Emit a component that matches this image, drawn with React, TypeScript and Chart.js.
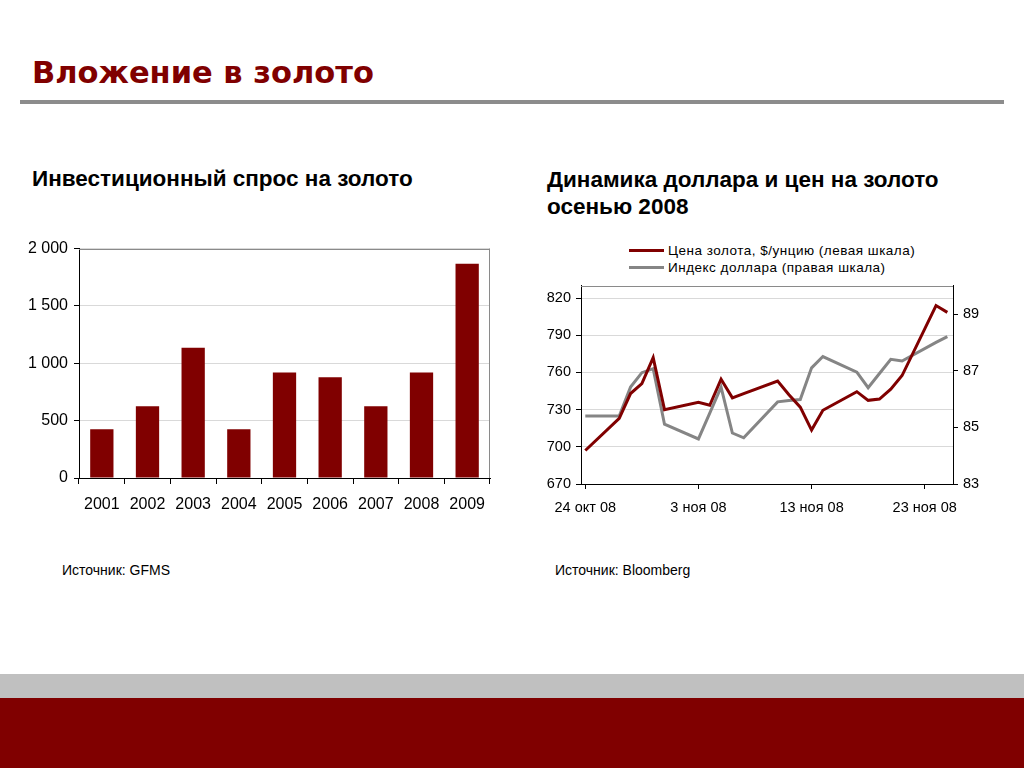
import React, { useEffect, useRef } from 'react';
import { Chart, registerables } from 'chart.js';

Chart.register(...registerables);

// ---- Bar chart data: investment demand for gold (tonnes)
const YEARS = ['2001', '2002', '2003', '2004', '2005', '2006', '2007', '2008', '2009'];
const DEMAND = [425, 625, 1135, 425, 920, 878, 625, 920, 1868];
const BAR_Y_MIN = 0;
const BAR_Y_MAX = 2000;
const BAR_Y_STEP = 500;

// ---- Line chart data: days since 24 Oct 2008 (trading days)
const TRADE_DAYS = [0, 3, 4, 5, 6, 7, 10, 11, 12, 13, 14, 17, 18, 19, 20, 21, 24, 25, 26, 27, 28, 31, 32];
const GOLD_PRICE = [697, 723, 743, 751, 772, 730, 736, 733.5, 754.5, 739.5, 743, 753, 742, 732, 713.5, 729.5, 744.5, 737.5, 738.5, 746.5, 757.5, 814, 808.5];
const DOLLAR_INDEX = [85.4, 85.4, 86.42, 86.93, 87.07, 85.11, 84.59, 85.5, 86.42, 84.8, 84.63, 85.9, 85.95, 85.98, 87.1, 87.5, 86.95, 86.4, 86.9, 87.4, 87.34, 88.0, 88.2];
const X_TICK_DAYS = [0, 10, 20, 30];
const X_TICK_LABELS = ['24 окт 08', '3 ноя 08', '13 ноя 08', '23 ноя 08'];
const X_MIN = -0.38;
const X_MAX = 32.5;
const LEFT_TICKS = [670, 700, 730, 760, 790, 820];
const LEFT_MIN = 670;
const LEFT_MAX = 830;
const RIGHT_TICKS = [83, 85, 87, 89];
const RIGHT_MIN = 83;
const RIGHT_MAX = 90;

const GOLD_LABEL = 'Цена золота, $/унцию (левая шкала)';
const DOLLAR_LABEL = 'Индекс доллара (правая шкала)';

const DARK_RED = '#800000';
const GREY_LINE = '#858585';
const GRID = '#d9d9d9';
const FONT = "'Liberation Sans', Arial, sans-serif";

function fmtThousands(v: number): string {
  return String(v).replace(/\B(?=(\d{3})+(?!\d))/g, ' ');
}

function framePlugin(drawRight: boolean) {
  return {
    id: 'frame',
    afterDraw(chart: any) {
      const { ctx, chartArea } = chart;
      const { left, right, top, bottom } = chartArea;
      ctx.save();
      ctx.strokeStyle = '#8a8a8a';
      ctx.lineWidth = 1;
      ctx.beginPath();
      ctx.moveTo(left, Math.round(top) + 0.5);
      ctx.lineTo(right, Math.round(top) + 0.5);
      if (drawRight) {
        ctx.moveTo(Math.round(right) - 0.5, top);
        ctx.lineTo(Math.round(right) - 0.5, bottom);
      }
      ctx.stroke();
      ctx.restore();
    },
  };
}

function BarChart() {
  const ref = useRef<HTMLCanvasElement>(null);
  useEffect(() => {
    if (!ref.current) return;
    const chart = new Chart(ref.current, {
      type: 'bar',
      data: {
        labels: YEARS,
        datasets: [
          {
            data: DEMAND,
            backgroundColor: DARK_RED,
            borderWidth: 0,
            categoryPercentage: 1,
            barPercentage: 0.51,
          },
        ],
      },
      options: {
        animation: false,
        responsive: false,
        layout: { padding: { top: 5, right: 10, left: 0, bottom: 0 } },
        plugins: { legend: { display: false }, tooltip: { enabled: false } },
        scales: {
          x: {
            type: 'category',
            grid: { offset: true, drawOnChartArea: false, drawTicks: true, tickLength: 6, tickColor: '#000' },
            border: { color: '#000', width: 1 },
            ticks: { color: '#000', font: { family: FONT, size: 16 }, padding: 11, maxRotation: 0 },
            afterFit: (s: any) => { s.height = 50; },
          },
          y: {
            min: BAR_Y_MIN,
            max: BAR_Y_MAX,
            ticks: {
              stepSize: BAR_Y_STEP,
              color: '#000',
              font: { family: FONT, size: 16 },
              padding: 6,
              callback: (v: any) => fmtThousands(Number(v)),
            },
            grid: { color: GRID, tickColor: '#000', tickLength: 5 },
            border: { color: '#000', width: 1 },
            afterFit: (s: any) => { s.width = 59; },
          },
        },
      },
      plugins: [framePlugin(true)],
    } as any);
    return () => chart.destroy();
  }, []);
  return <canvas ref={ref} width={480} height={295} style={{ position: 'absolute', left: 20, top: 233 }} />;
}

function LineChart() {
  const ref = useRef<HTMLCanvasElement>(null);
  useEffect(() => {
    if (!ref.current) return;
    const chart = new Chart(ref.current, {
      type: 'line',
      data: {
        datasets: [
          {
            label: GOLD_LABEL,
            data: TRADE_DAYS.map((d, i) => ({ x: d, y: GOLD_PRICE[i] })),
            borderColor: DARK_RED,
            borderWidth: 3,
            pointRadius: 0,
            tension: 0,
            yAxisID: 'y',
          },
          {
            label: DOLLAR_LABEL,
            data: TRADE_DAYS.map((d, i) => ({ x: d, y: DOLLAR_INDEX[i] })),
            borderColor: GREY_LINE,
            borderWidth: 3,
            pointRadius: 0,
            tension: 0,
            yAxisID: 'y1',
          },
        ],
      },
      options: {
        animation: false,
        responsive: false,
        layout: { padding: { top: 10, right: 0, left: 0, bottom: 0 } },
        plugins: { legend: { display: false }, tooltip: { enabled: false } },
        scales: {
          x: {
            type: 'linear',
            min: X_MIN,
            max: X_MAX,
            afterBuildTicks: (s: any) => { s.ticks = X_TICK_DAYS.map((v) => ({ value: v })); },
            ticks: {
              color: '#000',
              font: { family: FONT, size: 14.5 },
              padding: 10,
              maxRotation: 0,
              autoSkip: false,
              callback: (v: any) => X_TICK_LABELS[X_TICK_DAYS.indexOf(Number(v))] ?? '',
            },
            grid: { drawOnChartArea: false, tickLength: 5, tickColor: '#000' },
            border: { color: '#000', width: 1 },
            afterFit: (s: any) => { s.height = 36; },
          },
          y: {
            position: 'left',
            min: LEFT_MIN,
            max: LEFT_MAX,
            afterBuildTicks: (s: any) => { s.ticks = LEFT_TICKS.map((v) => ({ value: v })); },
            ticks: { color: '#000', font: { family: FONT, size: 14.5 }, padding: 5 },
            grid: { color: GRID, tickColor: '#000', tickLength: 5 },
            border: { color: '#000', width: 1 },
            afterFit: (s: any) => { s.width = 51; },
          },
          y1: {
            position: 'right',
            min: RIGHT_MIN,
            max: RIGHT_MAX,
            afterBuildTicks: (s: any) => { s.ticks = RIGHT_TICKS.map((v) => ({ value: v })); },
            ticks: { color: '#000', font: { family: FONT, size: 14.5 }, padding: 5 },
            grid: { drawOnChartArea: false, tickColor: '#000', tickLength: 5 },
            border: { color: '#000', width: 1 },
            afterFit: (s: any) => { s.width = 37; },
          },
        },
      },
      plugins: [framePlugin(false)],
    } as any);
    return () => chart.destroy();
  }, []);
  return <canvas ref={ref} width={460} height={248} style={{ position: 'absolute', left: 530, top: 272 }} />;
}

function LegendRow({ color, label, top }: { color: string; label: string; top: number }) {
  return (
    <div style={{ position: 'absolute', left: 629, top, height: 16, display: 'flex', alignItems: 'center' }}>
      <div style={{ width: 35, height: 3, background: color, marginRight: 4 }} />
      <span style={{ fontFamily: FONT, fontSize: 13.5, letterSpacing: 0.5, color: '#000', whiteSpace: 'nowrap' }}>{label}</span>
    </div>
  );
}

export default function App() {
  return (
    <div style={{ position: 'absolute', left: 0, top: 0, width: 1024, height: 768, background: '#fff', overflow: 'hidden' }}>
      <div style={{ position: 'absolute', left: 32, top: 57, fontFamily: "'DejaVu Sans', sans-serif", fontWeight: 'bold', fontSize: 30.5, lineHeight: '31px', color: DARK_RED, whiteSpace: 'nowrap' }}>
        Вложение в золото
      </div>
      <div style={{ position: 'absolute', left: 20, top: 100, width: 984, height: 4, background: '#8c8c8c' }} />

      <div style={{ position: 'absolute', left: 32, top: 167, fontFamily: FONT, fontWeight: 'bold', fontSize: 22.5, lineHeight: '23px', color: '#000', whiteSpace: 'nowrap' }}>
        Инвестиционный спрос на золото
      </div>
      <div style={{ position: 'absolute', left: 547, top: 166, fontFamily: FONT, fontWeight: 'bold', fontSize: 22.5, lineHeight: '27px', color: '#000', whiteSpace: 'nowrap' }}>
        Динамика доллара и цен на золото
        <br />
        осенью 2008
      </div>

      <BarChart />
      <LegendRow color={DARK_RED} label={GOLD_LABEL} top={242} />
      <LegendRow color={GREY_LINE} label={DOLLAR_LABEL} top={259} />
      <LineChart />

      <div style={{ position: 'absolute', left: 62, top: 563, fontFamily: FONT, fontSize: 14, lineHeight: '15px', color: '#000', whiteSpace: 'nowrap' }}>
        Источник: GFMS
      </div>
      <div style={{ position: 'absolute', left: 555, top: 563, fontFamily: FONT, fontSize: 14, lineHeight: '15px', color: '#000', whiteSpace: 'nowrap' }}>
        Источник: Bloomberg
      </div>

      <div style={{ position: 'absolute', left: 0, top: 674, width: 1024, height: 24, background: '#c0c0c0' }} />
      <div style={{ position: 'absolute', left: 0, top: 698, width: 1024, height: 70, background: DARK_RED }} />
    </div>
  );
}
